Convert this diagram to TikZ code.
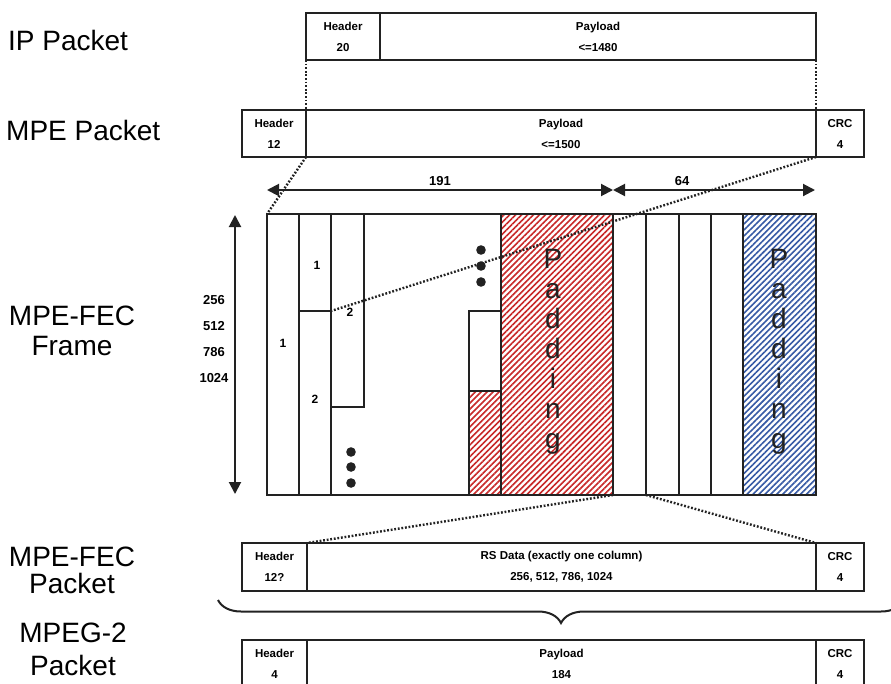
\documentclass[tikz,border=0pt]{standalone}
\usepackage{fontspec}
\setmainfont{Liberation Sans}
\usetikzlibrary{arrows.meta, positioning, patterns.meta, decorations.pathreplacing}
\definecolor{linegray}{RGB}{34,34,34}
\definecolor{hatchred}{RGB}{200,40,40}
\definecolor{hatchblue}{RGB}{55,90,165}

\begin{document}
\begin{tikzpicture}[
    x=1pt, y=-1pt,
    >={Triangle[length=12pt,width=12pt]},
    field/.style={draw=linegray, line width=2pt, inner sep=0pt, outer sep=0pt,
        minimum height=47pt, align=center,
        font=\fontsize{11.5}{21}\selectfont\bfseries},
    layer/.style={align=center, inner sep=0pt, font=\fontsize{28}{30}\selectfont},
    cell/.style={draw=linegray, line width=2pt},
    link/.style={linegray, line width=2.4pt, dash pattern=on 1.8pt off 1.8pt},
    dim/.style={<->, linegray, line width=2pt},
    num/.style={font=\fontsize{13}{26}\selectfont\bfseries},
    pad/.style={align=center, text=linegray, font=\fontsize{28}{30}\selectfont},
    hatch/.style={pattern={Lines[angle=45,distance=4.2pt,line width=1.6pt]}, pattern color=#1},
]
    \path[use as bounding box, fill=white] (0,0) rectangle (891,683);

    % layer names
    \node[layer, anchor=west] (ipLbl)    at (8,40)   {IP Packet};
    \node[layer, anchor=west] (mpeLbl)   at (6,130)  {MPE Packet};
    \node[layer]              (frameLbl) at (72,331) {MPE-FEC\\Frame};
    \node[layer, font=\fontsize{28}{27}\selectfont] (fecLbl) at (72,570) {MPE-FEC\\Packet};
    \node[layer, font=\fontsize{28}{33}\selectfont] (tsLbl)  at (73,649) {MPEG-2\\Packet};

    % packets
    \node[field, minimum width=74pt]                      (ipHdr)  at (343,36.5) {Header\\20};
    \node[field, minimum width=436pt, right=0pt of ipHdr] (ipPay)  {Payload\\<=1480};

    \node[field, minimum width=64pt]                       (mpeHdr) at (274,133.5) {Header\\12};
    \node[field, minimum width=510pt, right=0pt of mpeHdr] (mpePay) {Payload\\<=1500};
    \node[field, minimum width=48pt,  right=0pt of mpePay] (mpeCrc) {CRC\\4};

    \node[field, minimum width=65pt, minimum height=48pt]                       (fecHdr) at (274.5,567) {Header\\12?};
    \node[field, minimum width=509pt, minimum height=48pt, right=0pt of fecHdr] (fecPay) {RS Data (exactly one column)\\256, 512, 786, 1024};
    \node[field, minimum width=48pt,  minimum height=48pt, right=0pt of fecPay] (fecCrc) {CRC\\4};

    \node[field, minimum width=65pt, minimum height=48pt]                      (tsHdr) at (274.5,664) {Header\\4};
    \node[field, minimum width=509pt, minimum height=48pt, right=0pt of tsHdr] (tsPay) {Payload\\184};
    \node[field, minimum width=48pt,  minimum height=48pt, right=0pt of tsPay] (tsCrc) {CRC\\4};

    % frame
    \coordinate (frameNW) at (267,214);
    \coordinate (frameSE) at (816,495);
    \coordinate (split)   at (331,311);
    \coordinate (rsLeft)  at (613,495);
    \coordinate (rsRight) at (646,495);

    \draw[cell] (frameNW) rectangle (frameSE);
    \draw[cell, hatch=hatchred]  (501,214) rectangle (613,495);
    \draw[cell, hatch=hatchred]  (469,391) rectangle (501,495);
    \draw[cell, hatch=hatchblue] (743,214) rectangle (816,495);
    \foreach \x in {299,331,646,679,711}
        \draw[cell] (\x,214) -- (\x,495);
    \draw[cell] (299,311) -- (split);
    \draw[cell] (331,407) -- (364,407) -- (364,214);
    \draw[cell] (469,391) -- (469,311) -- (501,311);

    \node[num, font=\fontsize{12}{12}\selectfont\bfseries] (colA)  at (283,343) {1};
    \node[num, font=\fontsize{12}{12}\selectfont\bfseries] (colB1) at (317,265) {1};
    \node[num, font=\fontsize{12}{12}\selectfont\bfseries] (colB2) at (315,399) {2};
    \node[num, font=\fontsize{12}{12}\selectfont\bfseries] (colC2) at (350,312) {2};

    \foreach \y in {452,467,483}
        \fill[linegray] (351,\y) circle (4.8pt);
    \foreach \y in {250,266,282}
        \fill[linegray] (481,\y) circle (4.8pt);

    \node[pad] (padRS)  at (553,352) {P\\a\\d\\d\\i\\n\\g};
    \node[pad] (padFEC) at (779,352) {P\\a\\d\\d\\i\\n\\g};

    % dimensions
    \coordinate (dimL) at (267,190);
    \coordinate (dimM) at (613,190);
    \coordinate (dimR) at (815,190);
    \coordinate (dimT) at (235,215);
    \coordinate (dimB) at (235,494);
    \draw[dim] (dimL) -- (dimM);
    \draw[dim] (dimM) -- (dimR);
    \draw[dim] (dimT) -- (dimB);
    \node[num] (len191) at (440,181) {191};
    \node[num] (len64)  at (682,181) {64};
    \node[num, align=center] (rows) at (214,339) {256\\512\\786\\1024};

    % dotted links
    \draw[link] (ipHdr.south west)  -- (mpePay.north west);
    \draw[link] (ipPay.south east)  -- (mpeCrc.north west);
    \draw[link] (mpePay.south west) -- (frameNW);
    \draw[link] (mpeCrc.south west) -- (split);
    \draw[link] (rsLeft)  -- (fecPay.north west);
    \draw[link] (rsRight) -- (fecCrc.north west);

    \draw[linegray, line width=2pt, decorate, decoration={brace, mirror, amplitude=23pt}]
        (218,600) -- (904,600);
\end{tikzpicture}
\end{document}
